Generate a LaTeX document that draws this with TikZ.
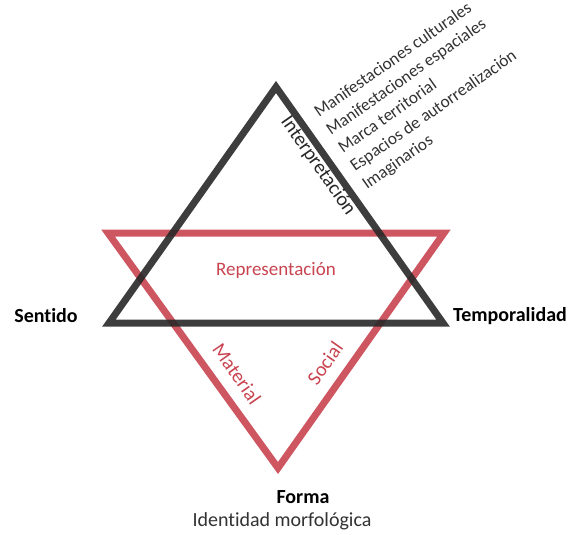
\documentclass[tikz,border=0pt]{standalone}
\usepackage{fontspec}
\setmainfont{Carlito}[Ligatures=NoCommon]
\definecolor{redline}{RGB}{200,68,80}
\definecolor{darkline}{RGB}{40,40,40}
\definecolor{listtext}{RGB}{50,50,50}
\tikzset{
  triangle/.style = {line width = 7pt, line join = miter, draw opacity = 0.9},
  pole/.style = {font = \fontsize{20}{22}\selectfont\bfseries, text = black},
  facet/.style = {font = \fontsize{20}{22}\selectfont, text = redline},
  item/.style = {font = \fontsize{17.3}{19}\selectfont, text = listtext, rotate = 35, anchor = base west, inner sep = 0pt}
}
\begin{document}
\begin{tikzpicture}[x = 1pt, y = -1pt]
\useasboundingbox (0,0) rectangle (568,535);

% vertices
\coordinate (btop) at (276,87);
\coordinate (bleft) at (109,323);
\coordinate (bright) at (443,323);
\coordinate (rleft) at (108,233);
\coordinate (rright) at (444,233);
\coordinate (rbottom) at (278,468);

\draw[triangle, draw = redline] (rleft) -- (rright) -- (rbottom) -- cycle;
\draw[triangle, draw = darkline] (btop) -- (bleft) -- (bright) -- cycle;

\node[pole] (sentido) at (46,316) {Sentido};
\node[pole] (temporalidad) at (510,316) {Temporalidad};
\node[pole] (forma) at (303,497) {Forma};
\node[font = \fontsize{20}{22}\selectfont, text = listtext] (identidad) at (282,521) {Identidad morfológica};

\node[facet, font = \fontsize{19}{21}\selectfont] (representacion) at (276,270) {Representación};
\node[facet, rotate = -55] (material) at (237,374) {Material};
\node[facet, rotate = 55] (social) at (325,363) {Social};
\node[font = \fontsize{20}{22}\selectfont, text = darkline, rotate = -55] (interpretacion) at (318,166) {Interpretación};

\node[item] (item1) at (319,118) {Manifestaciones culturales};
\node[item] (item2) at (331,136) {Manifestaciones espaciales};
\node[item] (item3) at (343,154) {Marca territorial};
\node[item] (item4) at (355,172) {Espacios de autorrealización};
\node[item] (item5) at (367,190) {Imaginarios};
\end{tikzpicture}
\end{document}
